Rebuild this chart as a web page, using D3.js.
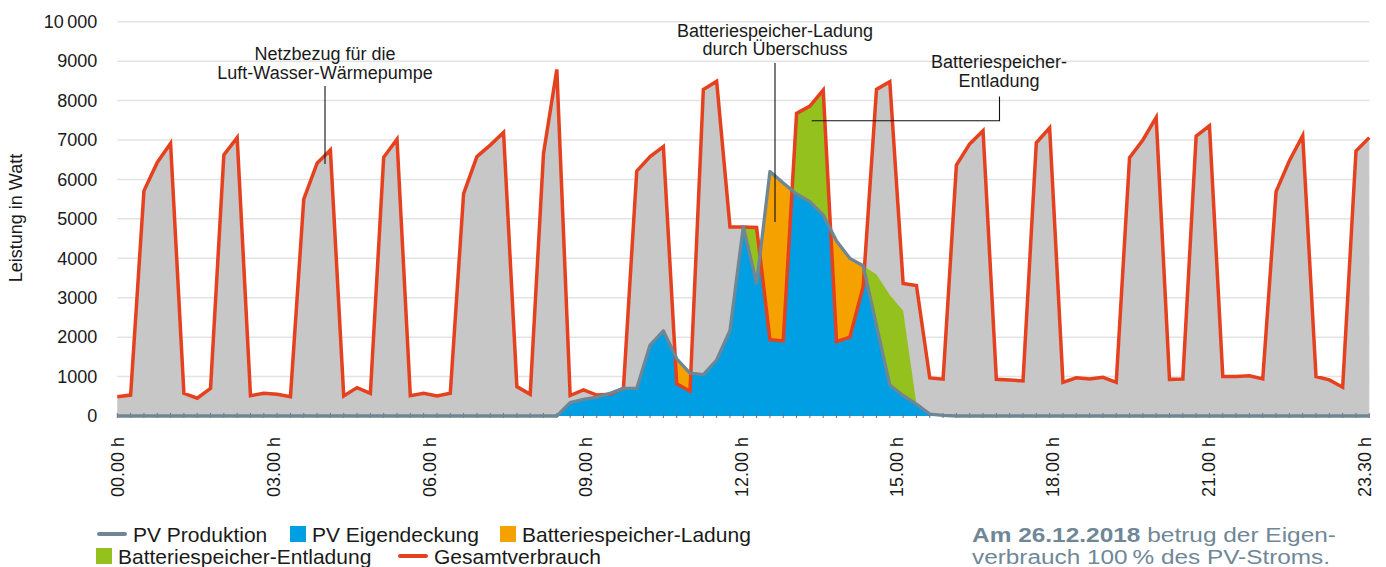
<!DOCTYPE html>
<html>
<head>
<meta charset="utf-8">
<script src="https://cdn.jsdelivr.net/npm/d3@7"></script>
<style>
  body { margin: 0; background: #fff; }
  svg { display: block; font-family: "Liberation Sans", Arial, sans-serif; }
</style>
</head>
<body>
<div id="chart"></div>
<script>
// Werte im 15-Minuten-Raster (00:00 ... 23:30), in Watt
const gesamtverbrauch = [
  490, 530, 5710, 6430, 6915, 575, 450, 700, 6620, 7060,
  515, 575, 550, 490, 5500, 6410, 6745, 510, 720, 575,
  6560, 7020, 515, 575, 510, 575, 5640, 6580, 6870, 7190,
  745, 550, 6660, 8790, 520, 660, 530, 550, 700, 6210,
  6580, 6830, 820, 630, 8280, 8490, 4795, 4795, 4780, 1935,
  1905, 7675, 7860, 8265, 1885, 2000, 3280, 8284, 8480, 3360,
  3310, 965, 935, 6365, 6900, 7236, 930, 915, 890, 6930,
  7310, 855, 970, 940, 980, 855, 6550, 7000, 7575, 930,
  940, 7100, 7365, 1000, 1000, 1020, 940, 5690, 6475, 7110,
  1000, 915, 730, 6720, 7060
];
const pvProduktion = [
  0, 0, 0, 0, 0, 0, 0, 0, 0, 0,
  0, 0, 0, 0, 0, 0, 0, 0, 0, 0,
  0, 0, 0, 0, 0, 0, 0, 0, 0, 0,
  0, 0, 0, 0, 340, 420, 480, 575, 700, 700,
  1800, 2160, 1450, 1090, 1050, 1420, 2170, 4800, 3364, 6200,
  5910, 5630, 5435, 5098, 4440, 3998, 3810, 2300, 786, 520,
  300, 50, 15, 0, 0, 0, 0, 0, 0, 0,
  0, 0, 0, 0, 0, 0, 0, 0, 0, 0,
  0, 0, 0, 0, 0, 0, 0, 0, 0, 0,
  0, 0, 0, 0, 0
];
const batterieEntladung = [
  0, 0, 0, 0, 0, 0, 0, 0, 0, 0,
  0, 0, 0, 0, 0, 0, 0, 0, 0, 0,
  0, 0, 0, 0, 0, 0, 0, 0, 0, 0,
  0, 0, 0, 0, 0, 0, 0, 0, 0, 0,
  0, 0, 0, 0, 0, 0, 0, 0, 1416, 0,
  0, 2045, 2425, 3167, 0, 0, 0, 1290, 2280, 2150,
  0, 0, 0, 0, 0, 0, 0, 0, 0, 0,
  0, 0, 0, 0, 0, 0, 0, 0, 0, 0,
  0, 0, 0, 0, 0, 0, 0, 0, 0, 0,
  0, 0, 0, 0, 0
];

const yTickValues = [0, 1000, 2000, 3000, 4000, 5000, 6000, 7000, 8000, 9000, 10000];
const yTickLabels = ["0", "1000", "2000", "3000", "4000", "5000", "6000", "7000", "8000", "9000", "10\u2009000"];
const xTickIndex = [0, 11.7, 23.4, 35.1, 46.8, 58.5, 70.2, 81.9, 93.6];
const xTickLabels = ["00.00 h", "03.00 h", "06.00 h", "09.00 h", "12.00 h", "15.00 h", "18.00 h", "21.00 h", "23.30 h"];

const C = {
  grid: "#e3e3e3",
  grau: "#c6c7c6",
  rot: "#e6411f",
  pv: "#6f8795",
  blau: "#009fe3",
  orange: "#f5a100",
  gruen: "#95c11f",
  notiz: "#6f8797"
};

const width = 1386, height = 567;
const svg = d3.select("#chart").append("svg")
  .attr("width", width).attr("height", height);

const x = d3.scaleLinear().domain([0, gesamtverbrauch.length - 1]).range([117.3, 1369.3]);
const y = d3.scaleLinear().domain([0, 10000]).range([416, 21.7]);

const rows = gesamtverbrauch.map((c, i) => ({
  i, c, p: pvProduktion[i], g: pvProduktion[i] + batterieEntladung[i]
}));

// grid
svg.append("g")
  .selectAll("line")
  .data(yTickValues.filter(d => d > 0))
  .join("line")
  .attr("x1", x(0)).attr("x2", x(gesamtverbrauch.length - 1))
  .attr("y1", d => y(d)).attr("y2", d => y(d))
  .attr("stroke", C.grid).attr("stroke-width", 1.5);

// clip paths: unter / ueber dem Gesamtverbrauch
const defs = svg.append("defs");
defs.append("clipPath").attr("id", "unter")
  .append("path")
  .attr("d", d3.area().x(d => x(d.i)).y0(y(0)).y1(d => y(d.c))(rows));
defs.append("clipPath").attr("id", "ueber")
  .append("path")
  .attr("d", d3.area().x(d => x(d.i)).y0(0).y1(d => y(d.c))(rows));

// Netzbezug (grau)
svg.append("path")
  .attr("d", d3.area().x(d => x(d.i)).y0(y(0)).y1(d => y(d.c))(rows))
  .attr("fill", C.grau);

// Batteriespeicher-Entladung
svg.append("path")
  .attr("clip-path", "url(#unter)")
  .attr("d", d3.area().x(d => x(d.i)).y0(y(0)).y1(d => y(d.g))(rows))
  .attr("fill", C.gruen);

// PV Eigendeckung
svg.append("path")
  .attr("clip-path", "url(#unter)")
  .attr("d", d3.area().x(d => x(d.i)).y0(y(0)).y1(d => y(d.p))(rows))
  .attr("fill", C.blau);

// Batteriespeicher-Ladung (Ueberschuss)
svg.append("path")
  .attr("clip-path", "url(#ueber)")
  .attr("d", d3.area().x(d => x(d.i)).y0(y(0)).y1(d => y(d.p))(rows))
  .attr("fill", C.orange);

// kleine Rasterstriche an der Basis
svg.append("g")
  .selectAll("line")
  .data(rows)
  .join("line")
  .attr("x1", d => x(d.i)).attr("x2", d => x(d.i))
  .attr("y1", y(0) - 3).attr("y2", y(0) + 2)
  .attr("stroke", "#5d7482").attr("stroke-width", 1);

// Gesamtverbrauch
svg.append("path")
  .attr("d", d3.line().x(d => x(d.i)).y(d => y(d.c))(rows))
  .attr("fill", "none").attr("stroke", C.rot).attr("stroke-width", 3.5);

// PV Produktion
svg.append("path")
  .attr("d", d3.line().x(d => x(d.i)).y(d => y(d.p))(rows))
  .attr("fill", "none").attr("stroke", C.pv).attr("stroke-width", 3.3)
  .attr("stroke-linejoin", "round");

// y axis
const yAxis = svg.append("g")
  .attr("transform", `translate(${x(0)},0)`)
  .call(d3.axisLeft(y).tickValues(yTickValues).tickSize(0).tickPadding(20)
    .tickFormat((d, i) => yTickLabels[i]));
yAxis.select(".domain").remove();
yAxis.selectAll("text")
  .attr("font-family", "Liberation Sans, Arial, sans-serif")
  .attr("font-size", 18).attr("fill", "#1a1a1a");

svg.append("text")
  .attr("transform", "translate(22,218) rotate(-90)")
  .attr("text-anchor", "middle")
  .attr("font-size", 18).attr("fill", "#1a1a1a")
  .text("Leistung in Watt");

// x axis
const xAxis = svg.append("g")
  .attr("transform", `translate(0,${y(0)})`)
  .call(d3.axisBottom(x).tickValues(xTickIndex).tickSize(0).tickPadding(0)
    .tickFormat((d, i) => xTickLabels[i]));
xAxis.select(".domain").remove();
xAxis.selectAll("text")
  .attr("font-family", "Liberation Sans, Arial, sans-serif")
  .attr("font-size", 18).attr("fill", "#1a1a1a")
  .attr("text-anchor", "end")
  .attr("y", 0)
  .attr("transform", "translate(0,21) rotate(-90)")
  .attr("dy", "0.36em");

// Annotationen
const ann = svg.append("g").attr("font-size", 18).attr("fill", "#1a1a1a").attr("text-anchor", "middle");
function label(lines, cx, y0, lh) {
  lines.forEach((t, i) => ann.append("text").attr("x", cx).attr("y", y0 + i * lh).text(t));
}
label(["Netzbezug für die", "Luft-Wasser-Wärmepumpe"], 325, 60, 19);
label(["Batteriespeicher-Ladung", "durch Überschuss"], 775, 37, 17.5);
label(["Batteriespeicher-", "Entladung"], 999, 68, 19);

const lead = svg.append("g").attr("stroke", "#111").attr("stroke-width", 1.1).attr("fill", "none");
lead.append("line").attr("x1", 325).attr("x2", 325).attr("y1", 86).attr("y2", 164);
lead.append("line").attr("x1", 775).attr("x2", 775).attr("y1", 63).attr("y2", 222);
lead.append("path").attr("d", "M999.5,96.5V120.7H811.7");

// Legende
const legend = [
  { name: "PV Produktion", type: "line", color: C.pv, x: 97, row: 0 },
  { name: "PV Eigendeckung", type: "rect", color: C.blau, x: 290, row: 0 },
  { name: "Batteriespeicher-Ladung", type: "rect", color: C.orange, x: 500, row: 0 },
  { name: "Batteriespeicher-Entladung", type: "rect", color: C.gruen, x: 96, row: 1 },
  { name: "Gesamtverbrauch", type: "line", color: C.rot, x: 398, row: 1 }
];
const lg = svg.append("g").attr("font-size", 21).attr("fill", "#1a1a1a");
legend.forEach(d => {
  const base = d.row === 0 ? 542 : 564;
  if (d.type === "line") {
    lg.append("line").attr("x1", d.x + 2).attr("x2", d.x + 28)
      .attr("y1", base - 8).attr("y2", base - 8)
      .attr("stroke", d.color).attr("stroke-width", 4).attr("stroke-linecap", "round");
    lg.append("text").attr("x", d.x + 36).attr("y", base).text(d.name);
  } else {
    lg.append("rect").attr("x", d.x).attr("y", base - 16).attr("width", 16).attr("height", 16)
      .attr("fill", d.color);
    lg.append("text").attr("x", d.x + 22).attr("y", base).text(d.name);
  }
});

// Notiz
const note = svg.append("g").attr("font-size", 20).attr("fill", C.notiz);
const t1 = note.append("text").attr("x", 972).attr("y", 542)
  .attr("textLength", 364).attr("lengthAdjust", "spacingAndGlyphs");
t1.append("tspan").attr("font-weight", "bold").text("Am 26.12.2018");
t1.append("tspan").text(" betrug der Eigen-");
note.append("text").attr("x", 972).attr("y", 564)
  .attr("textLength", 358).attr("lengthAdjust", "spacingAndGlyphs")
  .text("verbrauch 100\u202F% des PV-Stroms.");
</script>
</body>
</html>
